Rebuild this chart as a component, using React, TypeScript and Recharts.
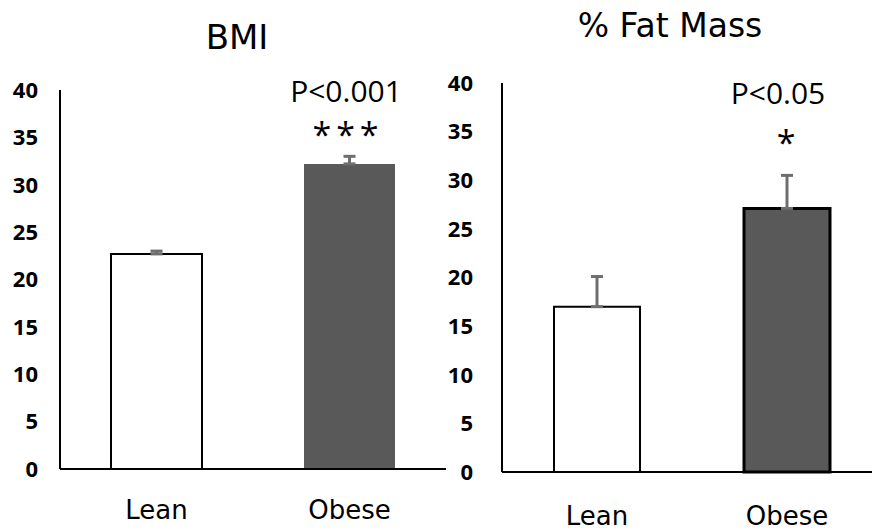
import { BarChart, Bar, XAxis, YAxis, ErrorBar, Cell } from "recharts";

const categories = ["Lean", "Obese"];
const bmiMean = [22.7, 32.2];
const bmiErr = [0.3, 0.8];
const fatMean = [17.0, 27.1];
const fatErr = [3.1, 3.4];
const yTicks = [0, 5, 10, 15, 20, 25, 30, 35, 40];

const bmiData = categories.map((c, i) => ({ name: c, value: bmiMean[i], err: [0, bmiErr[i]] }));
const fatData = categories.map((c, i) => ({ name: c, value: fatMean[i], err: [0, fatErr[i]] }));

const LEAN_FILL = "#ffffff";
const OBESE_FILL = "#595959";
const ERR_COLOR = "#6e6e6e";
const labelFont = "'DejaVu Sans', 'Noto Sans', sans-serif";
const tickFont = "'Open Sans', 'Noto Sans', sans-serif";

function Txt({
  x,
  y,
  size,
  font,
  spacing = 0,
  children,
}: {
  x: number;
  y: number;
  size: number;
  font: string;
  spacing?: number;
  children: string;
}) {
  return (
    <div
      style={{
        position: "absolute",
        left: x,
        top: y,
        transform: "translate(-50%, -50%)",
        fontFamily: font,
        fontSize: size,
        letterSpacing: spacing,
        color: "#000",
        whiteSpace: "nowrap",
        lineHeight: 1,
      }}
    >
      {children}
    </div>
  );
}

export default function App() {
  return (
    <div style={{ position: "fixed", left: 0, top: 0, width: 872, height: 531, overflow: "hidden", background: "#fff" }}>
      {/* BMI panel */}
      <div style={{ position: "absolute", left: 0, top: 0 }}>
        <BarChart width={460} height={531} data={bmiData} margin={{ top: 90, right: 14, bottom: 0, left: 0 }}>
          <XAxis
            dataKey="name"
            height={62}
            tickLine={false}
            tickSize={0}
            tickMargin={32}
            axisLine={{ stroke: "#000", strokeWidth: 2 }}
            tick={{ fill: "#000", fontSize: 26, fontFamily: labelFont }}
          />
          <YAxis
            width={60}
            domain={[0, 40]}
            ticks={yTicks}
            interval={0}
            tickLine={false}
            tickSize={0}
            tickMargin={22}
            axisLine={{ stroke: "#000", strokeWidth: 2 }}
            tick={{ fill: "#000", fontSize: 22, fontWeight: 700, fontFamily: tickFont }}
          />
          <Bar dataKey="value" barSize={91} isAnimationActive={false}>
            <Cell fill={LEAN_FILL} stroke="#000" strokeWidth={2} />
            <Cell fill={OBESE_FILL} stroke="none" />
            <ErrorBar dataKey="err" width={6} stroke={ERR_COLOR} strokeWidth={3} />
          </Bar>
        </BarChart>
      </div>

      {/* % Fat Mass panel */}
      <div style={{ position: "absolute", left: 440, top: 0 }}>
        <BarChart width={460} height={531} data={fatData} margin={{ top: 83, right: 18, bottom: 0, left: 0 }}>
          <XAxis
            dataKey="name"
            height={59}
            tickLine={false}
            tickSize={0}
            tickMargin={35}
            axisLine={{ stroke: "#000", strokeWidth: 2 }}
            tick={{ fill: "#000", fontSize: 26, fontFamily: labelFont }}
          />
          <YAxis
            width={62}
            domain={[0, 40]}
            ticks={yTicks}
            interval={0}
            tickLine={false}
            tickSize={0}
            tickMargin={29}
            axisLine={{ stroke: "#000", strokeWidth: 2 }}
            tick={{ fill: "#000", fontSize: 22, fontWeight: 700, fontFamily: tickFont }}
          />
          <Bar dataKey="value" barSize={86} isAnimationActive={false}>
            <Cell fill={LEAN_FILL} stroke="#000" strokeWidth={2} />
            <Cell fill={OBESE_FILL} stroke="#000" strokeWidth={3} />
            <ErrorBar dataKey="err" width={6} stroke={ERR_COLOR} strokeWidth={3} />
          </Bar>
        </BarChart>
      </div>

      <Txt x={237} y={37} size={34} font={labelFont}>BMI</Txt>
      <Txt x={670} y={25} size={33} font={labelFont}>% Fat Mass</Txt>
      <Txt x={346} y={91} size={30} font={tickFont}>P&lt;0.001</Txt>
      <Txt x={348} y={134} size={34} font={tickFont} spacing={5}>***</Txt>
      <Txt x={778} y={93} size={30} font={tickFont}>P&lt;0.05</Txt>
      <Txt x={786} y={142} size={34} font={tickFont}>*</Txt>
    </div>
  );
}
